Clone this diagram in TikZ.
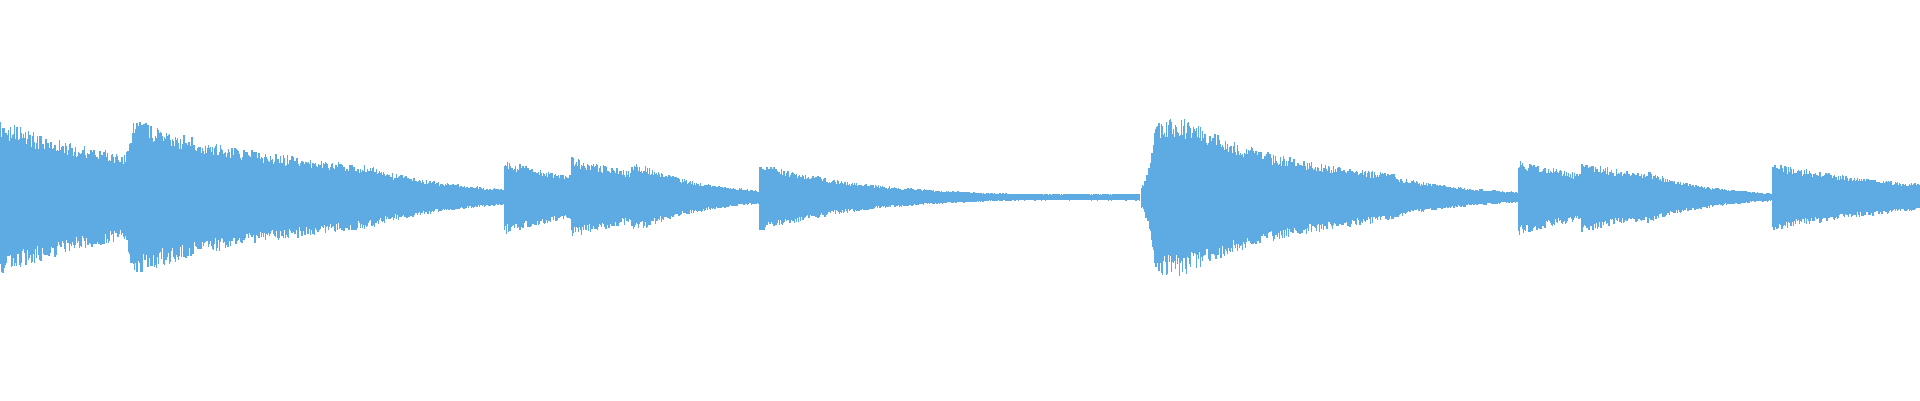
\documentclass[tikz,border=0pt]{standalone}
\definecolor{wave}{RGB}{93,171,226}
\newcommand\wseg[4]{%
  \pgfmathsetmacro\wsend{#2-0.5}%
  \foreach \x in {#1,#1.8,...,\wsend}{%
    \pgfmathsetmacro\tt{(\x-#1)/(#2-#1)}%
    \pgfmathsetmacro\aa{#3*pow(#4/#3,\tt)}%
    \pgfmathsetmacro\up{\aa*(0.82+0.3*rnd)}%
    \pgfmathsetmacro\dn{\aa*(0.82+0.3*rnd)}%
    \draw[wave,line width=1.1pt] (\x,161-\up) -- (\x,161+\dn);
  }}
\begin{document}
\begin{tikzpicture}[x=1pt,y=-1pt]
\pgfmathsetseed{7}
\useasboundingbox (0,0) rectangle (1568,326.7);
\wseg{0}{103}{57}{31}
\wseg{103}{108}{30}{58}
\wseg{108}{205}{58}{34}
\wseg{205}{310}{35}{22}
\wseg{310}{412}{20}{6}
\wseg{412}{467}{27}{16}
\wseg{467}{516}{30}{19}
\wseg{516}{620}{27}{5}
\wseg{620}{830}{26}{2.5}
\wseg{830}{932}{2.5}{2.5}
\wseg{932}{944}{8}{56}
\wseg{944}{965}{56}{58}
\wseg{965}{1040}{58}{32}
\wseg{1040}{1140}{32}{17}
\wseg{1140}{1240}{15}{4}
\wseg{1240}{1292}{28}{17}
\wseg{1292}{1345}{26}{17}
\wseg{1345}{1448}{19}{3}
\wseg{1448}{1568}{25}{10}
\end{tikzpicture}
\end{document}
